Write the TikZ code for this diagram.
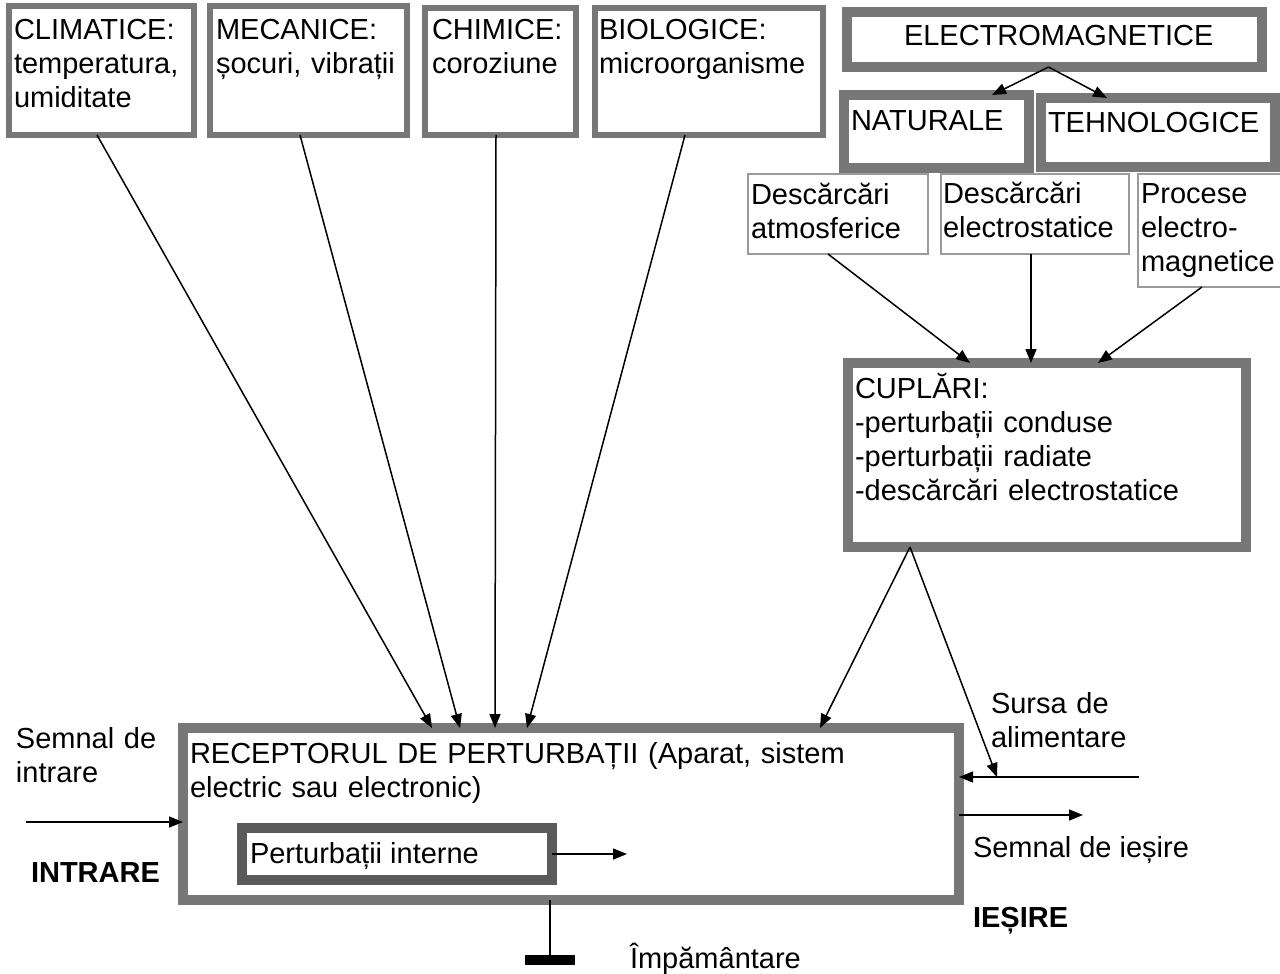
\documentclass[tikz,border=0pt]{standalone}
\usepackage{fontspec}
\setmainfont{Liberation Sans}
\usetikzlibrary{arrows.meta}
\definecolor{bordergray}{HTML}{777777}
\definecolor{innergray}{HTML}{5A5A5A}
\definecolor{thingray}{HTML}{9A9A9A}
\begin{document}
\begin{tikzpicture}[x=1pt,y=-1pt,
  every node/.style={inner sep=0pt, outer sep=0pt, font=\fontsize{29}{34}\selectfont},
  box/.style={draw=bordergray, fill=white, line width=6pt},
  bigbox/.style={draw=bordergray, fill=white, line width=10pt},
  innerbox/.style={draw=innergray, fill=white, line width=10pt},
  thinbox/.style={draw=thingray, fill=white, line width=1.2pt},
  txt/.style={anchor=base west, align=left, text width=800pt},
  lbl/.style={anchor=base west},
  arr/.style={-{Triangle[length=14pt,width=11pt]}, line width=1.5pt},
  plain/.style={line width=1.5pt},
]
\useasboundingbox (0,0) rectangle (1280,974);
\fill[white] (0,0) rectangle (1280,974);

% top boxes
\node[box, minimum width=185pt, minimum height=129pt] (clim) at (101.5,70.5) {};
\node[box, minimum width=197pt, minimum height=129pt] (mec) at (308.5,70.5) {};
\node[box, minimum width=151pt, minimum height=127pt] (chim) at (500.5,71.5) {};
\node[box, minimum width=228pt, minimum height=127pt] (bio) at (709,71.5) {};

\node[txt] (climt) at (14,40) {CLIMATICE:\\temperatura,\\umiditate};
\node[txt] (mect) at (216,40) {MECANICE:\\șocuri, vibrații};
\node[txt] (chimt) at (432,40) {CHIMICE:\\coroziune};
\node[txt] (biot) at (599,40) {BIOLOGICE:\\microorganisme};

% electromagnetic branch
\node[bigbox, minimum width=415pt, minimum height=55pt] (em) at (1054.5,39.5) {};
\node[bigbox, minimum width=185pt, minimum height=73pt] (nat) at (936.5,131.5) {};
\node[bigbox, minimum width=234pt, minimum height=69pt] (teh) at (1158,132.5) {};
\node[lbl] (emt) at (904,46) {ELECTROMAGNETICE};
\node[lbl] (natt) at (851,130) {NATURALE};
\node[lbl] (teht) at (1048,132) {TEHNOLOGICE};

\node[thinbox, minimum width=180pt, minimum height=80pt] (atm) at (838,214) {};
\node[thinbox, minimum width=188pt, minimum height=80pt] (els) at (1035,214) {};
\node[thinbox, minimum width=146pt, minimum height=113pt] (proc) at (1211,230.5) {};
\node[txt] (atmt) at (751,204) {Descărcări\\atmosferice};
\node[txt] (elst) at (943,203) {Descărcări\\electrostatice};
\node[txt] (proct) at (1141,203) {Procese\\electro-\\magnetice};

\node[bigbox, minimum width=398pt, minimum height=184pt] (cup) at (1047,455) {};
\node[txt] (cupt) at (855,398) {CUPLĂRI:\\-perturbații conduse\\-perturbații radiate\\-descărcări electrostatice};

% receptor
\node[bigbox, minimum width=776pt, minimum height=172pt] (rec) at (571,814) {};
\node[txt] (rect) at (190,763) {RECEPTORUL DE PERTURBAȚII (Aparat, sistem\\electric sau electronic)};
\node[innerbox, minimum width=310pt, minimum height=52pt] (pert) at (397,854) {};
\node[lbl] (pertt) at (250,863) {Perturbații interne};

% labels
\node[txt] (inlbl) at (16,748) {Semnal de\\intrare};
\node[lbl, font=\fontsize{29}{34}\selectfont\bfseries] (intrare) at (31,882) {INTRARE};
\node[txt] (srclbl) at (991,713) {Sursa de\\alimentare};
\node[lbl] (outlbl) at (973,857) {Semnal de ieșire};
\node[lbl, font=\fontsize{29}{34}\selectfont\bfseries] (iesire) at (973,927) {IEȘIRE};
\node[lbl] (gndlbl) at (630,968) {Împământare};

% ground
\node[fill=black, minimum width=50pt, minimum height=10pt] (gnd) at (550,960) {};
\draw[plain] ([xshift=-21pt]rec.south) -- (gnd.north);

% coordinates
\coordinate (src) at (1139,777);
\coordinate (outend) at (1083,815);
\coordinate (inst) at (26,822);
\coordinate (pertend) at (627,854);
\coordinate (srchit) at (997,777);

% arrows top -> receptor
\draw[arr] ([xshift=-4.5pt]clim.south) -- ([xshift=-139pt]rec.north);
\draw[arr] ([xshift=-8.5pt]mec.south) -- ([xshift=-111pt]rec.north);
\draw[arr] ([xshift=-4.5pt]chim.south) -- ([xshift=-76pt]rec.north);
\draw[arr] ([xshift=-24pt]bio.south) -- ([xshift=-44pt]rec.north);

% EM branch
\draw[arr] ([xshift=-6pt]em.south) -- ([xshift=55.5pt]nat.north);
\draw[arr] ([xshift=-6pt]em.south) -- ([xshift=-51pt]teh.north);
\draw[arr] ([xshift=-10pt]atm.south) -- ([xshift=-77pt]cup.north);
\draw[arr] ([xshift=-4pt]els.south) -- ([xshift=-16pt]cup.north);
\draw[arr] ([xshift=-9pt]proc.south) -- ([xshift=51pt]cup.north);

% cuplari -> receptor and source
\draw[arr] ([xshift=-137pt]cup.south) -- ([xshift=249pt]rec.north);
\draw[arr] ([xshift=-137pt]cup.south) -- (srchit);

% side arrows
\draw[arr] (src) -- (src -| rec.east);
\draw[arr] (outend -| rec.east) -- (outend);
\draw[arr] (inst) -- (inst -| rec.west);
\draw[arr] (pert.east) -- (pertend);
\end{tikzpicture}
\end{document}
